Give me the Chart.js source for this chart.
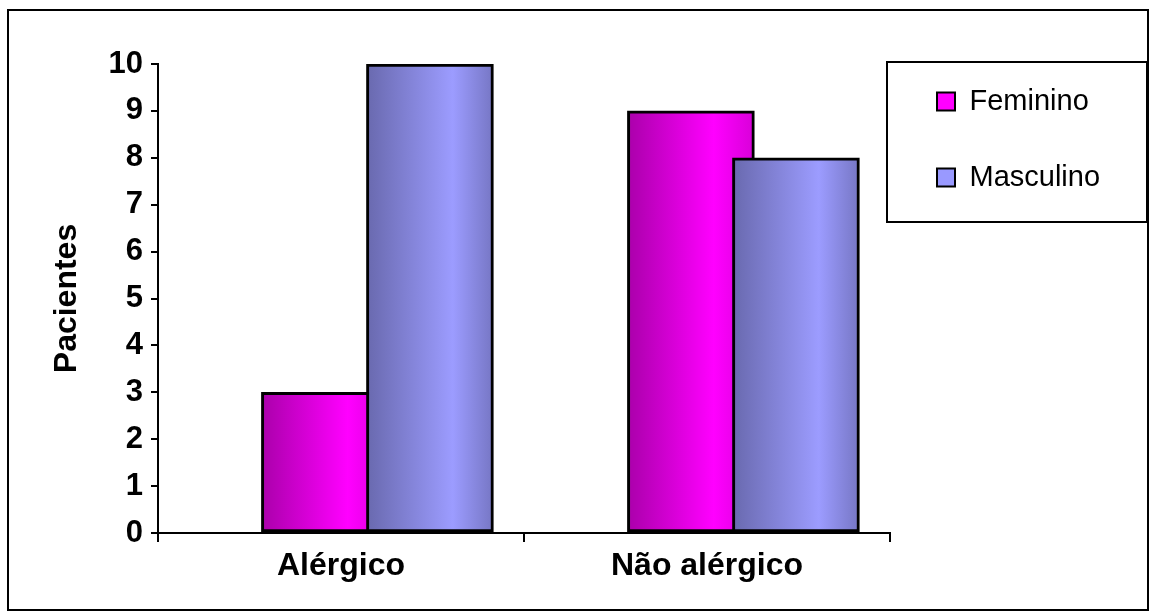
<!DOCTYPE html>
<html lang="pt">
<head>
<meta charset="utf-8">
<title>Pacientes por sexo</title>
<script src="https://cdn.jsdelivr.net/npm/chart.js@4/dist/chart.umd.min.js"></script>
<style>
  html, body { margin: 0; padding: 0; background: #fff; }
  #wrap { position: relative; width: 1155px; height: 616px; }
</style>
</head>
<body>
<div id="wrap"><canvas id="chart" width="1155" height="616"></canvas></div>
<script>
// Patient counts by allergy status and sex
const categories = ['Alérgico', 'Não alérgico'];
const seriesNames = ['Feminino', 'Masculino'];
const feminino = [3, 9];
const masculino = [10, 8];
const seriesColors = ['#FF00FF', '#9999FF'];

// Each series sits on its own hidden linear axis, shifted by a fraction of a
// category so the two bars overlap like the original workbook chart.
const femShift = -0.044;
const mascShift = 0.243;

const FONT = "'Liberation Sans', Arial, sans-serif";
const BAR_WIDTH = 127;

function gradientFill(stops, solid) {
  return (ctx) => {
    const { chart, dataIndex, dataset } = ctx;
    if (ctx.type !== 'data' || !chart.chartArea) return solid;
    const scale = chart.scales[dataset.xAxisID];
    if (!scale) return solid;
    const cx = scale.getPixelForValue(dataIndex);
    const g = chart.ctx.createLinearGradient(cx - BAR_WIDTH / 2, 0, cx + BAR_WIDTH / 2, 0);
    stops.forEach(([o, c]) => g.addColorStop(o, c));
    return g;
  };
}

const femFill = gradientFill([[0, '#AA00AA'], [0.68, '#FF00FF'], [1, '#D800D8']], seriesColors[0]);
const mascFill = gradientFill([[0, '#6969AE'], [0.68, '#9C9CFF'], [1, '#7676C4']], seriesColors[1]);

const toPoints = (values) => values.map((v, i) => ({ x: i, y: v }));

// Frames: the outer chart border and the box around the legend
const framePlugin = {
  id: 'frames',
  afterDraw(chart) {
    const { ctx, legend } = chart;
    ctx.save();
    ctx.strokeStyle = '#000';
    ctx.lineWidth = 2;
    ctx.strokeRect(8, 10, 1140, 600);
    if (legend) {
      ctx.strokeRect(legend.left - 3, legend.top + 22, 260, 160);
    }
    ctx.restore();
  }
};

new Chart(document.getElementById('chart'), {
  type: 'bar',
  data: {
    labels: categories,
    datasets: [
      {
        label: seriesNames[0],
        data: toPoints(feminino),
        xAxisID: 'xFem',
        yAxisID: 'y',
        order: 1,
        grouped: false,
        barThickness: BAR_WIDTH,
        backgroundColor: femFill,
        borderColor: '#000',
        borderWidth: 3,
        borderSkipped: false
      },
      {
        label: seriesNames[1],
        data: toPoints(masculino),
        xAxisID: 'xMasc',
        yAxisID: 'y',
        order: 0,
        grouped: false,
        barThickness: BAR_WIDTH,
        backgroundColor: mascFill,
        borderColor: '#000',
        borderWidth: 3,
        borderSkipped: false
      }
    ]
  },
  options: {
    responsive: false,
    animation: false,
    devicePixelRatio: 1,
    layout: { padding: { top: 40, right: 50, bottom: 0, left: 0 } },
    scales: {
      x: {
        type: 'category',
        position: 'bottom',
        offset: true,
        grid: {
          offset: true,
          display: true,
          drawOnChartArea: false,
          drawTicks: true,
          tickLength: 9,
          color: '#000',
          lineWidth: 2
        },
        border: { display: true, color: '#000', width: 2 },
        ticks: {
          color: '#000',
          padding: 5,
          font: { family: FONT, size: 32, weight: 'bold', lineHeight: 1.2 }
        },
        afterFit: (s) => { s.height = 83; }
      },
      xFem: {
        type: 'linear',
        axis: 'x',
        display: false,
        offset: false,
        bounds: 'data',
        min: -0.5 - femShift,
        max: categories.length - 0.5 - femShift
      },
      xMasc: {
        type: 'linear',
        axis: 'x',
        display: false,
        offset: false,
        bounds: 'data',
        min: -0.5 - mascShift,
        max: categories.length - 0.5 - mascShift
      },
      y: {
        type: 'linear',
        position: 'left',
        min: 0,
        max: 10,
        ticks: {
          stepSize: 1,
          color: '#000',
          padding: 8,
          font: { family: FONT, size: 31, weight: 'bold' }
        },
        grid: {
          display: true,
          drawOnChartArea: false,
          drawTicks: true,
          tickLength: 7,
          color: '#000',
          lineWidth: 2
        },
        border: { display: true, color: '#000', width: 2 },
        title: {
          display: true,
          text: 'Pacientes',
          color: '#000',
          padding: { top: 48, bottom: 0 },
          font: { family: FONT, size: 32, weight: 'bold', lineHeight: 1.2 }
        },
        afterFit: (s) => { s.width = 158; }
      }
    },
    plugins: {
      title: {
        display: true,
        text: '',
        font: { size: 10, lineHeight: 1 },
        padding: { top: 0, bottom: 14 }
      },
      legend: {
        display: true,
        position: 'right',
        align: 'start',
        maxWidth: 215,
        labels: {
          boxWidth: 18,
          boxHeight: 18,
          padding: 47,
          color: '#000',
          font: { family: FONT, size: 29 },
          sort: (a, b) => a.datasetIndex - b.datasetIndex,
          generateLabels: (chart) =>
            Chart.defaults.plugins.legend.labels.generateLabels(chart).map((item) => ({
              ...item,
              fillStyle: seriesColors[item.datasetIndex],
              strokeStyle: '#000',
              lineWidth: 2
            }))
        }
      },
      tooltip: { enabled: false }
    }
  },
  plugins: [framePlugin]
});
</script>
</body>
</html>
